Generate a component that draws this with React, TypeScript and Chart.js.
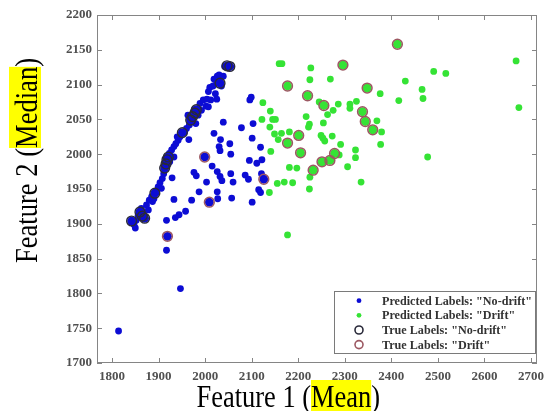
import React, { useEffect, useRef } from "react";
import { Chart, registerables } from "chart.js";

Chart.register(...registerables);

// ---------- data ----------
const xTickValues = [1800, 1900, 2000, 2100, 2200, 2300, 2400, 2500, 2600, 2700];
const yTickValues = [1700, 1750, 1800, 1850, 1900, 1950, 2000, 2050, 2100, 2150, 2200];
const xTitleParts = ["Feature 1 (", "Mean", ")"];
const yTitleParts = ["Feature 2 (", "Median", ")"];
const legendLabels = [
  'Predicted Labels: "No-drift"',
  'Predicted Labels: "Drift"',
  'True Labels: "No-drift"',
  'True Labels: "Drift"',
];

const predictedNoDrift: [number, number][] = [
  // diagonal band
  [1842, 1904], [1847, 1899], [1850, 1894], [1852, 1905], [1856, 1912], [1860, 1917], [1863, 1922],
  [1865, 1911], [1867, 1915], [1870, 1908], [1874, 1927], [1878, 1920], [1880, 1934], [1885, 1939],
  [1887, 1932], [1890, 1936], [1892, 1944], [1895, 1946], [1899, 1953], [1903, 1959], [1906, 1951],
  [1908, 1965], [1911, 1972], [1913, 1980], [1916, 1986], [1918, 1992], [1921, 1996], [1923, 2001],
  [1924, 1989], [1928, 2006], [1933, 2011], [1933, 1996], [1937, 2015], [1940, 2025], [1942, 2020],
  [1946, 2025], [1951, 2031], [1956, 2032], [1960, 2037], [1965, 2021], [1963, 2056], [1966, 2042],
  [1967, 2050], [1969, 2049], [1973, 2054], [1976, 2063], [1978, 2059], [1980, 2044], [1981, 2064],
  [1985, 2056], [1989, 2073], [1992, 2063], [1996, 2078], [2002, 2069], [2004, 2079], [2007, 2090],
  [2007, 2068], [2010, 2096], [2012, 2078], [2017, 2098], [2019, 2108], [2022, 2087], [2025, 2079],
  [2025, 2103], [2026, 2112], [2030, 2114], [2032, 2102], [2035, 2098], [2039, 2112], [2042, 2126],
  [2047, 2127], [2053, 2126],
  // scattered
  [2096, 2078], [2099, 2082], [2039, 2046], [2078, 2038], [2103, 2044], [2019, 2030], [2033, 2021],
  [2053, 2015], [2101, 2023], [2119, 2010], [2030, 2011], [2032, 2005], [2055, 2000], [2111, 1987],
  [2095, 1991], [2122, 1992], [2015, 1983], [2026, 1975], [2032, 1968], [2036, 1962], [2055, 1972],
  [2060, 1960], [2003, 1960], [1987, 1946], [2026, 1946], [2027, 1936], [2057, 1937], [2086, 1970],
  [2093, 1964], [2121, 1972], [2115, 1949], [2119, 1945], [2101, 1931], [1976, 1974], [1981, 1969],
  [1971, 1934], [1929, 1966], [1933, 1935], [1958, 1918], [1944, 1913], [1936, 1909], [1917, 1905],
  [1917, 1862], [1947, 1807], [1814, 1746],
  [1919, 1882], [1999, 1996], [2009, 1931], [2126, 1964],
];

const predictedDrift: [number, number][] = [
  [2159, 2130], [2165, 2130], [2227, 2124], [2225, 2107], [2269, 2108], [2296, 2128], [2413, 2158],
  [2668, 2134], [2491, 2119], [2517, 2116], [2430, 2105], [2466, 2093], [2468, 2080], [2416, 2077],
  [2674, 2067], [2177, 2098], [2220, 2084], [2348, 2095], [2376, 2087], [2245, 2075], [2255, 2070],
  [2286, 2072], [2311, 2072], [2311, 2066], [2325, 2076], [2275, 2063], [2263, 2057], [2124, 2074],
  [2140, 2062], [2145, 2050], [2151, 2050], [2122, 2050], [2139, 2039], [2149, 2029], [2164, 2030],
  [2181, 2032], [2217, 2054], [2224, 2043], [2222, 2039], [2254, 2045], [2249, 2027], [2253, 2023],
  [2257, 2019], [2273, 2026], [2291, 2014], [2338, 2061], [2344, 2047], [2360, 2035], [2369, 2048],
  [2379, 2032], [2377, 2014], [2201, 2027], [2177, 2016], [2141, 2004], [2157, 2021], [2205, 2002],
  [2278, 2001], [2268, 1991], [2251, 1989], [2232, 1977], [2288, 1999], [2323, 2006], [2323, 1995],
  [2306, 1982], [2181, 1981], [2197, 1980], [2225, 1967], [2170, 1960], [2155, 1958], [2188, 1959],
  [2138, 1945], [2224, 1950], [2335, 1960], [2478, 1996], [2177, 1884],
];

const trueNoDrift: [number, number][] = [
  [1842, 1904], [1860, 1917], [1865, 1911], [1870, 1908], [1892, 1944], [1913, 1980], [1916, 1986],
  [1918, 1992], [1921, 1996], [1951, 2031], [1969, 2049], [1973, 2054], [1978, 2059], [1981, 2064],
  [2032, 2102], [2047, 2127], [2053, 2126],
];

const trueDrift: [number, number][] = [
  [2296, 2128], [2413, 2158], [2177, 2098], [2220, 2084], [2348, 2095], [2255, 2070], [2338, 2061],
  [2344, 2047], [2360, 2035], [2201, 2027], [2177, 2016], [2205, 2002], [2278, 2001], [2268, 1991],
  [2251, 1989], [2232, 1977],
  [1919, 1882], [1999, 1996], [2009, 1931], [2126, 1964],
];

// ---------- styles ----------
const BLUE = "#0c0cd4";
const GREEN = "#35e335";
const DARK_RING = "#2a2a3a";
const PINK_RING = "#9c5862";
const SERIF = '"Liberation Serif", "Times New Roman", serif';

const toXY = (arr: [number, number][]) => arr.map(([x, y]) => ({ x, y }));
const circled = new Set([...trueNoDrift, ...trueDrift].map(([x, y]) => `${x},${y}`));
const dotRadius = (ctx: any) => {
  const r = ctx.raw;
  if (r && circled.has(`${r.x},${r.y}`)) return 4.4;
  return 3.4;
};

function drawTitle(
  ctx: CanvasRenderingContext2D,
  parts: string[],
  length: number,
  yellowTop: number,
  yellowBottom: number
) {
  ctx.font = `32px ${SERIF}`;
  const w = parts.map((p) => ctx.measureText(p).width);
  const total = w.reduce((a, b) => a + b, 0);
  const s = length / total;
  ctx.scale(s, 1);
  ctx.fillStyle = "#ffff00";
  ctx.fillRect(w[0], yellowTop, w[1], yellowBottom - yellowTop);
  ctx.fillStyle = "#000000";
  ctx.textBaseline = "alphabetic";
  ctx.textAlign = "left";
  let x = 0;
  parts.forEach((p, i) => {
    ctx.fillText(p, x, 0);
    x += w[i];
  });
}

const decorPlugin = {
  id: "decor",
  afterDraw(chart: any) {
    const { ctx, chartArea: a, scales } = chart;
    ctx.save();
    // box
    ctx.strokeStyle = "#858585";
    ctx.lineWidth = 1;
    ctx.strokeRect(a.left + 0.5, a.top + 0.5, a.right - a.left - 1, a.bottom - a.top - 1);
    // inward ticks
    const tl = 5;
    ctx.beginPath();
    for (const v of xTickValues) {
      const px = Math.round(scales.x.getPixelForValue(v)) + 0.5;
      ctx.moveTo(px, a.bottom);
      ctx.lineTo(px, a.bottom - tl);
      ctx.moveTo(px, a.top);
      ctx.lineTo(px, a.top + tl);
    }
    for (const v of yTickValues) {
      const py = Math.round(scales.y.getPixelForValue(v)) + 0.5;
      ctx.moveTo(a.left, py);
      ctx.lineTo(a.left + tl, py);
      ctx.moveTo(a.right, py);
      ctx.lineTo(a.right - tl, py);
    }
    ctx.stroke();

    // legend
    const lx0 = 334, ly0 = 291, lx1 = 536, ly1 = 354;
    ctx.fillStyle = "#ffffff";
    ctx.fillRect(lx0, ly0, lx1 - lx0, ly1 - ly0);
    ctx.strokeStyle = "#7a7a7a";
    ctx.strokeRect(lx0 + 0.5, ly0 + 0.5, lx1 - lx0 - 1, ly1 - ly0 - 1);
    const rows = [300.7, 315.3, 330, 344.6];
    const mx = 359;
    ctx.fillStyle = BLUE;
    ctx.beginPath();
    ctx.arc(mx, rows[0], 2.4, 0, Math.PI * 2);
    ctx.fill();
    ctx.fillStyle = GREEN;
    ctx.beginPath();
    ctx.arc(mx, rows[1], 2.4, 0, Math.PI * 2);
    ctx.fill();
    ctx.lineWidth = 1.6;
    ctx.strokeStyle = DARK_RING;
    ctx.beginPath();
    ctx.arc(mx, rows[2], 4, 0, Math.PI * 2);
    ctx.stroke();
    ctx.strokeStyle = PINK_RING;
    ctx.beginPath();
    ctx.arc(mx, rows[3], 4, 0, Math.PI * 2);
    ctx.stroke();
    ctx.font = `bold 13.5px ${SERIF}`;
    ctx.fillStyle = "#333333";
    ctx.textBaseline = "middle";
    ctx.textAlign = "left";
    const ls = 150 / ctx.measureText(legendLabels[0]).width;
    legendLabels.forEach((t, i) => {
      ctx.save();
      ctx.translate(382, rows[i] + 0.5);
      ctx.scale(ls, 1);
      ctx.fillText(t, 0, 0);
      ctx.restore();
    });

    // x title
    ctx.save();
    ctx.translate(196.5, 406.5);
    drawTitle(ctx, xTitleParts, 183.5, -26.5, 5);
    ctx.restore();
    // y title
    ctx.save();
    ctx.translate(37, 263);
    ctx.rotate(-Math.PI / 2);
    drawTitle(ctx, yTitleParts, 205, -28, 4);
    ctx.restore();

    ctx.restore();
  },
};

export default function App() {
  const ref = useRef<HTMLCanvasElement | null>(null);
  useEffect(() => {
    if (!ref.current) return;
    const tickFont = { family: SERIF, weight: "bold" as const, size: 13 };
    const chart = new Chart(ref.current, {
      type: "scatter",
      data: {
        datasets: [
          {
            label: legendLabels[2],
            data: toXY(trueNoDrift),
            pointRadius: 4.9,
            pointBorderColor: DARK_RING,
            pointBackgroundColor: "rgba(0,0,0,0)",
            pointBorderWidth: 1.4,
            order: 1,
          },
          {
            label: legendLabels[3],
            data: toXY(trueDrift),
            pointRadius: 4.9,
            pointBorderColor: PINK_RING,
            pointBackgroundColor: "rgba(0,0,0,0)",
            pointBorderWidth: 1.5,
            order: 1,
          },
          {
            label: legendLabels[0],
            data: toXY(predictedNoDrift),
            pointRadius: dotRadius,
            pointBackgroundColor: BLUE,
            pointBorderColor: BLUE,
            pointBorderWidth: 0,
            order: 2,
          },
          {
            label: legendLabels[1],
            data: toXY(predictedDrift),
            pointRadius: dotRadius,
            pointBackgroundColor: GREEN,
            pointBorderColor: GREEN,
            pointBorderWidth: 0,
            order: 2,
          },
        ],
      },
      options: {
        responsive: false,
        animation: false,
        devicePixelRatio: 1,
        events: [],
        layout: { padding: { top: 15, right: 14, left: 0, bottom: 0 } },
        plugins: { legend: { display: false }, tooltip: { enabled: false } },
        scales: {
          x: {
            type: "linear",
            position: "bottom",
            min: 1767.7,
            max: 2712.9,
            afterFit: (s: any) => {
              s.height = 48;
            },
            afterBuildTicks: (s: any) => {
              s.ticks = xTickValues.map((v) => ({ value: v }));
            },
            grid: { display: false, drawTicks: false },
            border: { display: false },
            ticks: {
              font: tickFont,
              color: "#505050",
              padding: 6,
              maxRotation: 0,
              autoSkip: false,
              callback: (v: any) => String(v),
            },
          },
          y: {
            type: "linear",
            min: 1700,
            max: 2200,
            afterFit: (s: any) => {
              s.width = 97;
            },
            afterBuildTicks: (s: any) => {
              s.ticks = yTickValues.map((v) => ({ value: v }));
            },
            grid: { display: false, drawTicks: false },
            border: { display: false },
            ticks: {
              font: tickFont,
              color: "#505050",
              padding: 5,
              autoSkip: false,
              callback: (v: any) => String(v),
            },
          },
        },
      },
      plugins: [decorPlugin],
    });
    return () => chart.destroy();
  }, []);

  return (
    <div style={{ position: "absolute", left: 0, top: 0, width: 551, height: 411, background: "#fff" }}>
      <canvas ref={ref} width={551} height={411} style={{ display: "block" }} />
    </div>
  );
}
